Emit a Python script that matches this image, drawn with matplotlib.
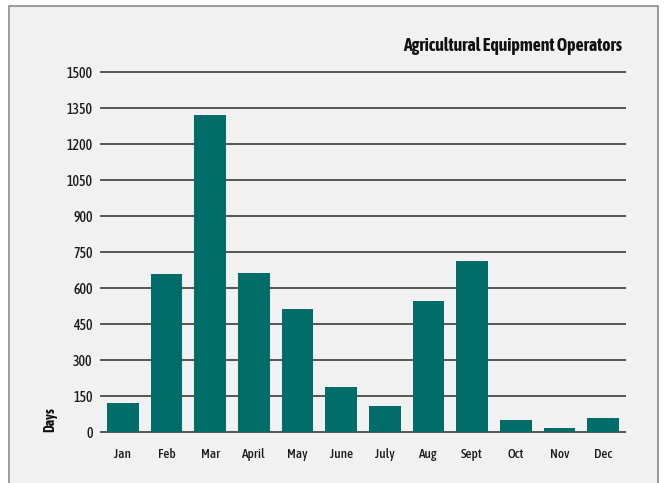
import matplotlib.pyplot as plt
from matplotlib.patches import Rectangle

months = ['Jan', 'Feb', 'Mar', 'April', 'May', 'June', 'July', 'Aug', 'Sept', 'Oct', 'Nov', 'Dec']
days = [121, 660, 1322, 664, 514, 189, 110, 547, 714, 51, 18, 60]
yticks = [0, 150, 300, 450, 600, 750, 900, 1050, 1200, 1350, 1500]

plt.rcParams['font.family'] = ['Asap Condensed', 'DejaVu Sans']

fig = plt.figure(figsize=(6.67, 4.83), dpi=100)
fig.patch.set_facecolor('white')

# light grey panel with thin border
W, H = 667, 483
panel = Rectangle((9 / W, -0.1), (658 - 9) / W, (H - 6) / H + 0.1,
                  transform=fig.transFigure, facecolor='#f1f1f1',
                  edgecolor='#8c8c8c', linewidth=1.2, zorder=-5)
fig.patches.append(panel)

ax = fig.add_axes([101 / W, 50.7 / H, 524 / W, 360 / H])
ax.set_facecolor('none')
ax.set_zorder(2)

for y in yticks:
    ax.axhline(y, color='#555555', linewidth=1.4, zorder=1, clip_on=False)

x = range(len(months))
ax.bar(x, days, width=0.73, color='#006d68', zorder=2)

ax.set_xlim(-0.5, len(months) - 0.5)
ax.set_ylim(0, 1500)
ax.set_yticks(yticks)
ax.set_yticklabels([str(v) for v in yticks], fontsize=10, fontweight='medium', color='#1a1a1a')
ax.set_xticks(list(x))
ax.set_xticklabels(months, fontsize=9.5, fontweight='medium', color='#1a1a1a')
ax.tick_params(axis='y', length=0, pad=6)
ax.tick_params(axis='x', length=0, pad=11)
for s in ax.spines.values():
    s.set_visible(False)

fig.text(622 / W, 1 - 46 / H, 'Agricultural Equipment Operators',
         ha='right', va='center', fontsize=12.8, fontweight='bold', color='#111111')
fig.text(50 / W, 1 - 420 / H, 'Days', rotation=90, ha='center', va='center',
         fontsize=10, fontweight='bold', color='#111111')

fig.savefig('out.png', dpi=100)
